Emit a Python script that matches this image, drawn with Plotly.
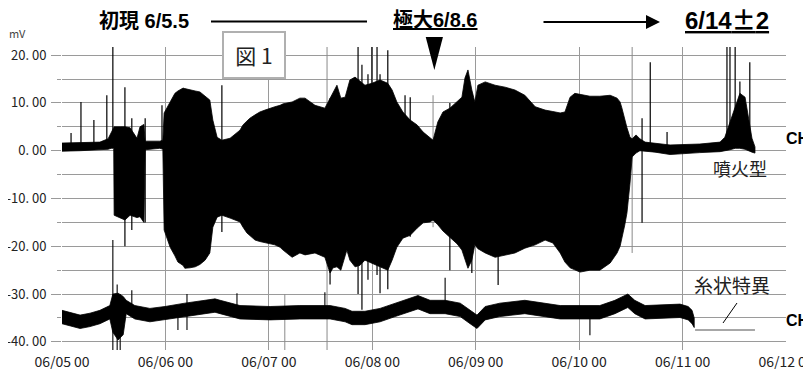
import plotly.graph_objects as go

# ---------------- data (hours since 06/05 00:00, mV) ----------------
day_hours = [0, 24, 48, 72, 96, 120, 144, 168]
day_labels = ["06/05 00", "06/06 00", "06/07 00", "06/08 00",
              "06/09 00", "06/10 00", "06/11 00", "06/12 00"]
y_ticks = [-40, -30, -20, -10, 0, 10, 20]
y_labels = ["-40. 00", "-30. 00", "-20. 00", "-10. 00", "0. 00", "10. 00", "20. 00"]
y_minor = [-35, -25, -15, -5, 5, 15]

# CH1 envelope
ch1_t = [0, 4.2, 8.8, 10.7, 11.4, 12.0, 12.1, 13.5, 14.6, 15.8, 17.4, 18.1, 19.0, 19.3,
         20.4, 22.7, 23.4, 23.7, 25.1, 26.2, 26.9, 28.1, 28.5, 29.7, 30.9, 32.0, 33.2,
         34.3, 35.0, 36.0, 37.1, 39.0, 41.3, 42.0, 42.9, 43.6, 44.8, 45.9, 47.1, 48.3,
         49.4, 50.6, 51.3, 53.4, 55.2, 56.4, 58.7, 61.0, 62.2, 62.9, 63.8, 64.7, 65.7,
         66.1, 66.8, 68.0, 69.1, 70.3, 71.9, 73.8, 75.6, 76.6, 77.7, 79.1, 80.8, 82.4,
         83.8, 85.4, 86.1, 87.2, 88.4, 90.0, 91.7, 92.8, 93.5, 94.2, 95.1, 95.8, 96.5,
         98.2, 100.5, 102.8, 105.1, 107.4, 109.8, 112.1, 113.9, 115.6, 116.7, 117.9,
         119.0, 120.2, 122.5, 124.8, 127.2, 128.8, 129.5, 129.9, 130.6, 131.1, 131.8,
         132.3, 133.2, 134.1, 135.3, 137.6, 141.1, 148.0, 152.7, 153.8, 155.0, 156.2,
         157.3, 158.5, 159.2, 160.1, 160.8]
ch1_hi = [1.6, 1.7, 1.8, 2.5, 3.7, 4.5, 5.0, 5.0, 5.0, 4.8, 2.6, 5.0, 5.5, 2.0,
          2.0, 2.0, 2.2, 7.9, 10.2, 12.0, 12.5, 13.1, 13.0, 12.7, 12.5, 12.3, 11.5,
          10.6, 6.4, 2.8, 2.2, 2.6, 4.3, 5.4, 6.2, 6.8, 7.5, 8.1, 8.5, 8.9,
          9.2, 9.5, 9.8, 10.2, 11.0, 11.0, 9.5, 8.9, 11.0, 12.3, 13.7, 11.0, 11.2,
          12.5, 14.8, 15.4, 14.5, 13.7, 14.1, 14.8, 14.1, 12.7, 10.2, 8.1, 6.4, 5.4,
          3.9, 2.8, 2.2, 6.0, 8.1, 8.9, 10.2, 11.2, 15.2, 16.9, 12.7, 10.2, 13.7,
          14.4, 13.7, 13.3, 12.7, 11.6, 9.2, 8.5, 8.2, 7.9, 8.1, 11.2,
          12.0, 11.8, 11.4, 11.4, 11.6, 11.0, 10.2, 9.0, 6.4, 4.8, 2.8,
          2.5, 3.3, 2.5, 1.8, 1.5, 1.2, 1.4, 1.8, 2.8, 5.8, 9.2,
          12.0, 11.2, 7.0, 2.6, 0.8]
ch1_lo = [-0.1, 0.0, 0.2, 0.3, 0.5, 0.5, -13.5, -14.0, -14.5, -13.5, -14.0, -13.8, -15.0, 0.2,
          0.3, 0.5, 0.3, -16.6, -20.2, -22.0, -23.3, -24.0, -24.6, -24.5, -24.3, -23.8, -22.9,
          -21.4, -16.0, -13.9, -13.5, -14.1, -14.9, -16.0, -17.2, -17.8, -18.7, -19.0, -19.3, -19.5,
          -19.7, -20.2, -20.8, -22.3, -21.4, -21.8, -21.4, -22.3, -25.6, -24.5, -24.3, -25.0, -22.0,
          -20.8, -22.9, -24.3, -24.0, -22.9, -23.5, -24.3, -25.0, -22.9, -20.2, -18.3, -17.7, -16.2,
          -15.1, -14.9, -14.5, -15.5, -16.8, -18.2, -19.5, -20.8, -22.5, -24.6, -22.9, -19.7, -20.5,
          -21.4, -22.3, -21.8, -21.4, -20.4, -19.7, -18.7, -19.3, -21.4, -23.3, -24.5,
          -25.0, -25.4, -25.0, -25.0, -23.5, -21.4, -20.0, -18.0, -15.5, -13.0, -6.8,
          -1.3, -0.5, 0.0, -0.2, -0.3, -0.8, -0.4, -0.2, 0.0, 0.2, 0.5,
          0.5, 0.3, 0.0, -0.3, -0.5]

# CH1 spikes
ch1_spike_t = [2.1, 4.4, 7.4, 10.4, 11.8, 14.6, 16.2, 19.3, 23.2, 37.1, 62.2, 68.7, 69.6,
               71.0, 71.9, 73.1, 73.8, 75.6, 79.6, 80.8, 90.0, 95.1, 101.2, 134.6, 136.5,
               140.4, 154.3, 155.0, 156.2, 157.3, 159.6]
ch1_spike_top = [3.7, 10.2, 6.4, 11.6, 21.7, 13.3, 6.8, 6.8, 9.5, 13.7, 11.0, 21.7, 18.0,
                 16.0, 21.7, 21.7, 16.0, 21.0, 11.6, 11.2, 10.0, 12.0, 13.0, 6.8, 18.5,
                 3.9, 21.7, 21.7, 21.7, 14.5, 18.5]
ch1_spike_bot = [0.5, 1.0, 1.0, 1.5, 2.0, -20.0, -16.6, -15.0, 1.0, -17.0, -28.0, -30.0, -33.3,
                 -27.0, -23.0, -26.0, -29.8, -29.0, -18.0, -18.0, -25.0, -25.6, -28.1, -15.1, 0.0,
                 0.0, 1.0, 1.0, 1.0, 1.0, 0.5]

# CH2 envelope
ch2_t = [0, 2.3, 4.2, 6.5, 8.8, 11.1, 11.8, 13.0, 14.2, 14.9, 16.9, 20.4, 23.9, 28.5, 33.2,
         35.5, 36.7, 41.3, 48.3, 55.2, 62.2, 65.7, 67.3, 70.3, 73.8, 77.3, 80.8, 82.6, 85.4,
         88.9, 92.4, 94.7, 96.3, 98.2, 101.6, 107.4, 115.6, 124.8, 128.3, 129.9, 131.3,
         132.9, 135.3, 143.4, 145.3, 146.2, 146.7]
ch2_hi = [-33.4, -33.9, -34.4, -34.0, -33.4, -32.4, -30.0, -29.8, -30.5, -31.3, -32.4, -33.0,
          -32.6, -31.9, -31.3, -31.0, -31.3, -32.4, -32.6, -32.4, -32.4, -33.0, -33.6, -33.6,
          -33.0, -31.9, -30.9, -30.3, -31.3, -31.3, -31.9, -33.4, -34.4, -32.6, -31.9, -31.3,
          -32.4, -32.4, -31.3, -30.6, -30.0, -31.3, -32.4, -32.1, -32.6, -33.4, -35.0]
ch2_lo = [-36.2, -36.7, -37.2, -36.8, -36.2, -35.2, -38.0, -39.6, -38.5, -34.1, -35.2, -35.8,
          -35.4, -34.7, -34.1, -33.8, -34.1, -35.2, -35.4, -35.2, -35.2, -35.8, -36.4, -36.4,
          -35.8, -34.7, -33.7, -33.1, -34.1, -34.1, -34.7, -36.2, -37.2, -35.4, -34.7, -34.1,
          -35.2, -35.2, -34.1, -33.4, -32.8, -34.1, -35.2, -34.9, -35.4, -36.2, -37.0]
# CH2 flat (糸状) segment
ch2_flat_t = [146.9, 160.8]
ch2_flat_v = [-37.5, -37.5]

# CH2 spikes
ch2_spike_t = [11.8, 12.8, 13.5, 16.2, 26.9, 29.0, 40.6, 61.0, 88.9, 122.5]
ch2_spike_top = [-18.7, -28.0, -30.0, -29.2, -34.0, -30.0, -29.8, -29.6, -26.6, -33.0]
ch2_spike_bot = [-41.7, -41.7, -41.7, -34.0, -37.5, -37.5, -34.0, -34.0, -33.0, -38.6]

# faint vertical recorder lines
thin_t = [51.7, 61.5, 86.1, 132.3]
thin_top = [-30.0, 21.7, 11.6, 21.7]
thin_bot = [-41.7, -41.7, -16.0, -21.4]

# milestones (hours)
peak_hour = 86.4   # 極大 6/8.6

# ---------------- figure ----------------
OFF = 8                      # page body margin
W, H = 811 - OFF, 369 - OFF
PL, PR, PT, PB = 62, 786, 47, 350   # plot box in window pixels
L, R, T, B = PL - OFF, (811 - PR), PT - OFF, 369 - PB
YMIN, YMAX = -41.7, 21.7


def pxx(x):
    return (x - PL) / (PR - PL)


def pxy(y):
    return (PB - y) / (PB - PT)


def segs(ts, tops, bots):
    xs, ys = [], []
    for t, a, b in zip(ts, tops, bots):
        xs += [t, t, None]
        ys += [a, b, None]
    return xs, ys


fig = go.Figure()

sx, sy = segs(thin_t, thin_top, thin_bot)
fig.add_trace(go.Scatter(x=sx, y=sy, mode="lines", line=dict(color="#8a8a8a", width=1),
                         hoverinfo="skip"))

fig.add_trace(go.Scatter(x=ch1_t + ch1_t[::-1], y=ch1_hi + ch1_lo[::-1], fill="toself",
                         fillcolor="black", mode="lines", line=dict(color="black", width=0.8),
                         hoverinfo="skip"))
sx, sy = segs(ch1_spike_t, ch1_spike_top, ch1_spike_bot)
fig.add_trace(go.Scatter(x=sx, y=sy, mode="lines", line=dict(color="black", width=1.2),
                         hoverinfo="skip"))

fig.add_trace(go.Scatter(x=ch2_t + ch2_t[::-1], y=ch2_hi + ch2_lo[::-1], fill="toself",
                         fillcolor="black", mode="lines", line=dict(color="black", width=0.8),
                         hoverinfo="skip"))
sx, sy = segs(ch2_spike_t, ch2_spike_top, ch2_spike_bot)
fig.add_trace(go.Scatter(x=sx, y=sy, mode="lines", line=dict(color="black", width=1.1),
                         hoverinfo="skip"))
fig.add_trace(go.Scatter(x=ch2_flat_t, y=ch2_flat_v, mode="lines",
                         line=dict(color="#8a8a8a", width=1.5), hoverinfo="skip"))

grid = "#9a9a9a"
xfont = dict(family="Noto Sans CJK JP", size=14, color="#222")
yfont = dict(family="Noto Sans CJK JP", size=13, color="#222")

fig.update_layout(
    width=W, height=H, margin=dict(l=L, r=R, t=T, b=B, autoexpand=False),
    paper_bgcolor="white", plot_bgcolor="white", showlegend=False, hovermode=False,
    xaxis=dict(range=[0, 168], tickvals=day_hours, ticktext=day_labels, showgrid=True,
               gridcolor=grid, gridwidth=1, zeroline=False, showline=False, ticks="",
               tickfont=xfont, ticklabelstandoff=2, ticklabeloverflow="allow"),
    yaxis=dict(range=[YMIN, YMAX], tickvals=y_ticks, ticktext=y_labels, showgrid=True,
               gridcolor=grid, gridwidth=1, zeroline=False, showline=False, ticks="outside",
               ticklen=10, tickcolor=grid, tickfont=yfont, ticklabelstandoff=2,
               minor=dict(tickvals=y_minor, showgrid=True, gridcolor=grid, ticks="outside",
                          ticklen=4, tickcolor=grid)),
)

bold = dict(family="Liberation Sans, Noto Sans CJK JP", color="black")


def note(x, y, text, font, **kw):
    d = dict(x=pxx(x), y=pxy(y), xref="paper", yref="paper", text=text, showarrow=False,
             xanchor="center", yanchor="middle", font=font)
    d.update(kw)
    return d


ann = [
    note(17, 33, "mV", dict(family="Noto Sans CJK JP", size=11, color="#444")),
    note(144, 21, "<b>初現 6/5.5</b>", dict(size=20, **bold)),
    note(435, 20, "<b><u>極大6/8.6</u></b>", dict(size=20, **bold)),
    note(727, 19, "<b><u>6/14<span style='font-family:Noto Sans CJK JP'>±</span>2</u></b>",
         dict(size=24, **bold)),
    note(254.5, 55, "図 1", dict(family="Noto Sans CJK JP", size=21, color="#222"),
         bgcolor="white", bordercolor="#b0b0b0", borderwidth=2, width=58, height=42),
    note(740, 168, "噴火型", dict(family="Noto Sans CJK JP", size=18, color="#222")),
    note(732, 284, "糸状特異", dict(family="Noto Sans CJK JP", size=19, color="#222")),
    note(811, 138, "<b>CH</b>", dict(size=16, **bold), xanchor="right"),
    note(811, 320, "<b>CH</b>", dict(size=16, **bold), xanchor="right"),
    dict(x=pxx(660), y=pxy(22), xref="paper", yref="paper", text="", showarrow=True,
         ax=-118, ay=0, arrowhead=2, arrowsize=1.4, arrowwidth=2, arrowcolor="black"),
]
fig.update_layout(annotations=ann)

shapes = []
shapes.append(dict(type="line", xref="paper", yref="paper", x0=pxx(211), x1=pxx(367),
                   y0=pxy(21.5), y1=pxy(21.5), line=dict(color="black", width=2)))
shapes.append(dict(type="line", xref="paper", yref="paper", x0=pxx(723), x1=pxx(737),
                   y0=pxy(323), y1=pxy(303), line=dict(color="black", width=1)))
tri_half = 2.0
shapes.append(dict(type="path", xref="x", yref="paper",
                   path=f"M {peak_hour - tri_half},{pxy(37)} L {peak_hour + tri_half},{pxy(37)} "
                        f"L {peak_hour},{pxy(70)} Z",
                   fillcolor="black", line=dict(color="black", width=0)))
fig.update_layout(shapes=shapes)

fig.write_html("out.html")
